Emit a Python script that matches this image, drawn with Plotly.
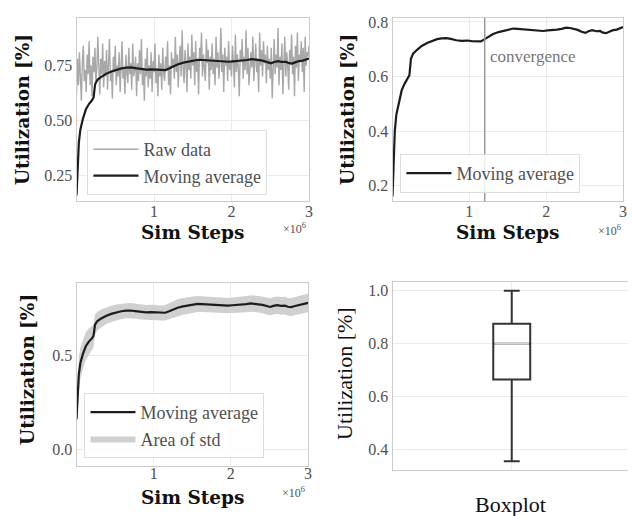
import numpy as np
import plotly.graph_objects as go

W, H = 632, 516

# ---------------- data ----------------
raw_step_size = 12500
raw_util = [
    0.62,0.78,0.66,0.81,0.70,0.59,0.76,0.84,0.68,0.73,0.63,0.80,0.71,0.86,0.66,0.75,0.61,0.79,0.72,0.83,
    0.67,0.74,0.88,0.69,0.62,0.78,0.71,0.85,0.65,0.77,0.70,0.82,0.64,0.76,0.87,0.68,0.73,0.60,0.79,0.72,
    0.84,0.66,0.75,0.70,0.81,0.63,0.77,0.86,0.69,0.74,0.62,0.80,0.72,0.67,0.83,0.71,0.76,0.64,0.85,0.70,
    0.73,0.79,0.61,0.76,0.68,0.82,0.71,0.87,0.66,0.74,0.59,0.78,0.70,0.83,0.65,0.75,0.69,0.81,0.63,0.77,
    0.72,0.85,0.67,0.74,0.61,0.80,0.70,0.76,0.64,0.83,0.71,0.68,0.79,0.73,0.86,0.66,0.75,0.62,0.81,0.74,
    0.78,0.69,0.88,0.72,0.80,0.65,0.77,0.84,0.70,0.91,0.74,0.67,0.82,0.76,0.63,0.85,0.73,0.79,0.69,0.89,
    0.75,0.81,0.66,0.86,0.72,0.78,0.62,0.83,0.77,0.90,0.70,0.80,0.74,0.68,0.87,0.76,0.82,0.64,0.79,0.73,
    0.85,0.71,0.78,0.66,0.88,0.74,0.81,0.69,0.76,0.92,0.72,0.80,0.63,0.83,0.75,0.79,0.68,0.86,0.73,0.77,
    0.70,0.84,0.76,0.65,0.89,0.72,0.80,0.74,0.61,0.82,0.77,0.87,0.69,0.79,0.73,0.91,0.71,0.83,0.66,0.78,
    0.81,0.74,0.88,0.68,0.79,0.85,0.72,0.77,0.63,0.90,0.75,0.82,0.70,0.86,0.76,0.80,0.67,0.84,0.73,0.78,
    0.69,0.83,0.60,0.77,0.87,0.71,0.80,0.74,0.92,0.66,0.79,0.73,0.85,0.62,0.78,0.88,0.70,0.81,0.75,0.64,
    0.82,0.76,0.89,0.71,0.79,0.61,0.84,0.74,0.90,0.68,0.80,0.77,0.86,0.72,0.83,0.63,0.88,0.75,0.81,0.79,
    0.84,
]
raw_steps = [i * raw_step_size for i in range(len(raw_util))]

ma_steps_m = [0.00,0.01,0.02,0.03,0.05,0.08,0.12,0.16,0.20,0.22,0.24,0.27,0.32,0.38,0.45,0.52,0.58,0.64,0.70,0.76,
              0.83,0.90,0.97,1.03,1.10,1.15,1.20,1.26,1.31,1.38,1.44,1.50,1.57,1.63,1.70,1.76,1.83,1.90,1.96,2.02,
              2.08,2.14,2.20,2.26,2.31,2.36,2.41,2.46,2.51,2.55,2.60,2.65,2.70,2.74,2.78,2.82,2.87,2.92,2.96,3.00]
ma_util = [0.160,0.260,0.340,0.400,0.460,0.505,0.550,0.575,0.592,0.605,0.665,0.685,0.698,0.712,0.723,0.731,0.737,0.740,0.741,0.738,
           0.733,0.731,0.732,0.730,0.728,0.729,0.737,0.748,0.756,0.763,0.768,0.772,0.776,0.775,0.773,0.771,0.769,0.768,0.767,0.769,
           0.770,0.772,0.775,0.779,0.778,0.774,0.771,0.764,0.760,0.766,0.770,0.766,0.767,0.761,0.759,0.764,0.770,0.772,0.777,0.782]
ma_std = [0.090,0.090,0.090,0.090,0.085,0.080,0.075,0.070,0.065,0.060,0.055,0.050,0.048,0.045,0.043,0.042,0.041,0.040,0.040,0.040,
          0.040,0.040,0.040,0.040,0.040,0.041,0.042,0.044,0.045,0.045,0.045,0.044,0.043,0.042,0.042,0.041,0.041,0.041,0.041,0.041,
          0.042,0.042,0.043,0.044,0.044,0.044,0.045,0.046,0.046,0.046,0.046,0.047,0.047,0.047,0.048,0.048,0.049,0.050,0.050,0.050]
ma_steps = [v * 1e6 for v in ma_steps_m]

convergence_step = 1.2e6

box_q1, box_median, box_q3 = 0.665, 0.80, 0.875
box_low, box_high = 0.355, 1.0

x_tickvals = [1e6, 2e6, 3e6]
x_ticktext = ["1", "2", "3"]

# ---------------- style ----------------
SERIF = "Liberation Serif"
BOLD = "DejaVu Serif"
TICK_COLOR = "#505050"
GRID = "#ebebeb"
SPINE = "#cccccc"
RAW_COLOR = "#a8a8a8"
MA_COLOR = "#1c1c1c"

def px_x(p):
    return p / W

def px_y(p):
    return 1 - p / H

fig = go.Figure()

# Panel 1
fig.add_trace(go.Scatter(x=raw_steps, y=raw_util, mode="lines", name="Raw data",
                         line=dict(color=RAW_COLOR, width=1.4), xaxis="x", yaxis="y", legend="legend"))
fig.add_trace(go.Scatter(x=ma_steps, y=ma_util, mode="lines", name="Moving average",
                         line=dict(color=MA_COLOR, width=2.2), xaxis="x", yaxis="y", legend="legend"))
# Panel 2
fig.add_trace(go.Scatter(x=ma_steps, y=ma_util, mode="lines", name="Moving average",
                         line=dict(color=MA_COLOR, width=2.2), xaxis="x2", yaxis="y2", legend="legend2"))
# Panel 3
ma_arr = np.array(ma_util)
std_arr = np.array(ma_std)
fig.add_trace(go.Scatter(x=ma_steps, y=ma_arr + std_arr, mode="lines", line=dict(width=0, color="#cfcfcf"),
                         showlegend=False, xaxis="x3", yaxis="y3", hoverinfo="skip"))
fig.add_trace(go.Scatter(x=ma_steps, y=ma_arr - std_arr, mode="lines", line=dict(width=0, color="#cfcfcf"),
                         fill="tonexty", fillcolor="#d0d0d0", name="Area of std",
                         xaxis="x3", yaxis="y3", legend="legend3", legendrank=2))
fig.add_trace(go.Scatter(x=ma_steps, y=ma_util, mode="lines", name="Moving average",
                         line=dict(color=MA_COLOR, width=2.2), xaxis="x3", yaxis="y3", legend="legend3",
                         legendrank=1))
# Panel 4
box_w = 0.31
fig.add_trace(go.Box(x=[0], q1=[box_q1], median=[box_median], q3=[box_q3],
                     lowerfence=[box_low], upperfence=[box_high], width=box_w, whiskerwidth=0.43,
                     line=dict(color="#333333", width=2), fillcolor="white", showlegend=False,
                     xaxis="x4", yaxis="y4", boxpoints=False))
fig.add_trace(go.Scatter(x=[-box_w / 2 + 0.01, box_w / 2 - 0.01], y=[box_median, box_median], mode="lines",
                         line=dict(color="#d4d4d4", width=2), showlegend=False, xaxis="x4", yaxis="y4"))

axis_common = dict(showline=True, linecolor=SPINE, linewidth=1, mirror=True, gridcolor=GRID, gridwidth=1,
                   ticks="", zeroline=False, tickfont=dict(family=SERIF, size=16, color=TICK_COLOR))

xdom1 = [px_x(77), px_x(311)]
xdom2 = [px_x(395), px_x(627)]
xdom3 = [px_x(77), px_x(310)]
xdom4 = [px_x(395), 1.0]
ydom_top = [px_y(199), px_y(14)]
ydom3 = [px_y(466), px_y(281)]
ydom4 = [px_y(470), px_y(280)]

fig.update_layout(
    width=W, height=H, margin=dict(l=0, r=0, t=0, b=0),
    plot_bgcolor="white", paper_bgcolor="white",
    xaxis=dict(domain=xdom1, range=[0, 3e6], tickvals=x_tickvals, ticktext=x_ticktext, anchor="y",
               ticklabelstandoff=-5, **axis_common),
    yaxis=dict(domain=ydom_top, range=[0.133, 0.966], tickvals=[0.25, 0.5, 0.75],
               ticktext=["0.25", "0.50", "0.75"], anchor="x", **axis_common),
    xaxis2=dict(domain=xdom2, range=[0, 3e6], tickvals=x_tickvals, ticktext=x_ticktext, anchor="y2",
                ticklabelstandoff=-5, **axis_common),
    yaxis2=dict(domain=ydom_top, range=[0.142, 0.815], tickvals=[0.2, 0.4, 0.6, 0.8],
                ticktext=["0.2", "0.4", "0.6", "0.8"], anchor="x2", **axis_common),
    xaxis3=dict(domain=xdom3, range=[0, 3e6], tickvals=x_tickvals, ticktext=x_ticktext, anchor="y3",
                ticklabelstandoff=-8, **axis_common),
    yaxis3=dict(domain=ydom3, range=[-0.092, 0.889], tickvals=[0.0, 0.5],
                ticktext=["0.0", "0.5"], anchor="x3", **axis_common),
    xaxis4=dict(domain=xdom4, range=[-1, 0.975], tickvals=[0], showticklabels=False, anchor="y4",
                showline=True, linecolor=SPINE, linewidth=1, mirror=True, gridcolor=GRID, ticks="", zeroline=False),
    yaxis4=dict(domain=ydom4, range=[0.321, 1.034], tickvals=[0.4, 0.6, 0.8, 1.0],
                ticktext=["0.4", "0.6", "0.8", "1.0"], anchor="x4",
                showline=True, linecolor=SPINE, linewidth=1, mirror=False, gridcolor=GRID, ticks="",
                zeroline=False, tickfont=dict(family=SERIF, size=16, color=TICK_COLOR)),
    showlegend=True,
)

legend_common = dict(bgcolor="rgba(255,255,255,0.85)", bordercolor="#dddddd", borderwidth=1,
                     font=dict(family=SERIF, size=18, color="#505050"), xanchor="left", yanchor="top",
                     xref="paper", yref="paper", tracegroupgap=0, itemwidth=45, traceorder="normal")
fig.update_layout(
    legend=dict(x=px_x(88), y=px_y(127), **legend_common),
    legend2=dict(x=px_x(403), y=px_y(151), **legend_common),
    legend3=dict(x=px_x(85), y=px_y(392), **legend_common),
)

# convergence line
fig.add_shape(type="line", x0=convergence_step, x1=convergence_step, y0=0, y1=1,
              xref="x2", yref="y2 domain", line=dict(color="#9a9a9a", width=1.5))
fig.add_annotation(x=convergence_step, y=0.673, xref="x2", yref="y2", text="convergence",
                   showarrow=False, xanchor="left", yanchor="middle", xshift=3,
                   font=dict(family=SERIF, size=17, color="#777777"))

# axis titles as annotations
def title(text, x, y, angle=0, bold=True, size=18.5):
    fam = BOLD if bold else SERIF
    fig.add_annotation(x=px_x(x), y=px_y(y), xref="paper", yref="paper", text=text, showarrow=False,
                       textangle=angle, xanchor="center", yanchor="middle",
                       font=dict(family=fam, size=size, color="#111111", weight="bold" if bold else "normal"))

title("Utilization [%]", 22, 106, angle=-90)
title("Sim Steps", 194, 230)
title("Utilization [%]", 349, 106, angle=-90)
title("Sim Steps", 511, 230)
title("Utilization [%]", 27, 368, angle=-90)
title("Sim Steps", 194, 497)
title("Utilization [%]", 346, 372, angle=-90, bold=False, size=22)
title("Boxplot", 514, 504, bold=False, size=22)

# x10^6 offset labels
for (xr, yc) in [(310, 226), (627, 228), (309, 492)]:
    fig.add_annotation(x=px_x(xr), y=px_y(yc), xref="paper", yref="paper", text="×10<sup>6</sup>",
                       showarrow=False, xanchor="right", yanchor="middle",
                       font=dict(family=SERIF, size=12, color=TICK_COLOR))

post = ("document.body.style.margin='0';document.body.style.padding='0';"
        "document.documentElement.style.overflow='hidden';"
        "var d=document.getElementById('{plot_id}');"
        "d.style.position='fixed';d.style.left='0px';d.style.top='0px';")

fig.write_html("out.html", post_script=post, config={"displayModeBar": False})
